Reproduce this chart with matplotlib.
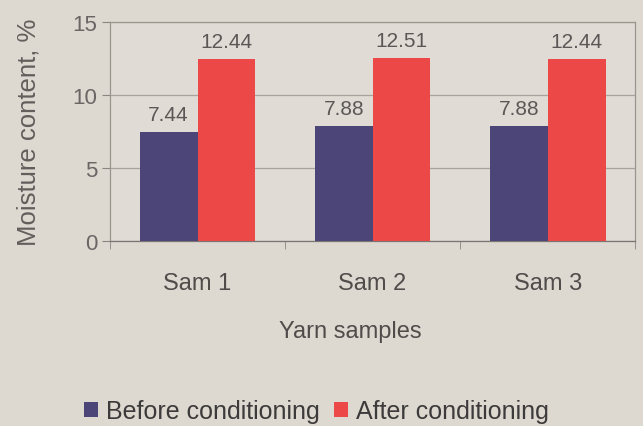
import matplotlib
matplotlib.use("Agg")
import matplotlib.pyplot as plt
import numpy as np

categories = ["Sam 1", "Sam 2", "Sam 3"]
before = [7.44, 7.88, 7.88]
after = [12.44, 12.51, 12.44]
series_names = ["Before conditioning", "After conditioning"]
yticks = [0, 5, 10, 15]

plt.rcParams['font.family'] = ['Liberation Sans', 'DejaVu Sans']

bg = '#ddd8d0'
txt = '#4f4c4a'
c_before = '#4b4677'
c_after = '#ec4848'

fig = plt.figure(figsize=(6.43, 4.27), dpi=100, facecolor=bg)
ax = fig.add_axes([0.171, 0.433, 0.817, 0.513], facecolor='#e0dcd5')

x = np.arange(len(categories))
w = 0.33
b1 = ax.bar(x - w / 2, before, w, color=c_before, label=series_names[0], zorder=3)
b2 = ax.bar(x + w / 2, after, w, color=c_after, label=series_names[1], zorder=3)

for bars, vals in ((b1, before), (b2, after)):
    for r, v in zip(bars, vals):
        ax.annotate(f"{v:.2f}", (r.get_x() + r.get_width() / 2, v),
                    xytext=(0, 6), textcoords='offset points',
                    ha='center', va='bottom', fontsize=15, color='#5a5756')

ax.set_xlim(-0.5, 2.5)
ax.set_ylim(0, 15)
ax.set_yticks(yticks)
ax.set_xticks(x)
ax.set_xticklabels(categories)
ax.set_xticks([-0.5, 0.5, 1.5, 2.5], minor=True)
ax.tick_params(axis='x', which='major', length=0, pad=22, labelsize=17, labelcolor=txt)
ax.tick_params(axis='x', which='minor', length=6, color='#8a8580', direction='out')
ax.tick_params(axis='y', length=6, color='#8a8580', pad=3, labelsize=16, labelcolor='#6a6664')

ax.yaxis.grid(True, color='#a8a39c', linewidth=0.9, zorder=0)
for s in ax.spines.values():
    s.set_color('#9a958f')
    s.set_linewidth(0.9)
ax.spines['bottom'].set_color('#7a7570')

ax.set_xlabel("Yarn samples", fontsize=17, color=txt)
ax.xaxis.set_label_coords(0.457, -0.41)
ax.xaxis.label.set_va('center')
ax.set_ylabel("Moisture content, %", fontsize=18.5, color='#625e5c')
ax.yaxis.set_label_coords(-0.156, 0.50)
ax.yaxis.label.set_va('center')

leg = fig.legend(handles=[b1, b2], labels=series_names, loc='center',
                 bbox_to_anchor=(0.492, 0.035), ncol=2, frameon=False,
                 fontsize=18, handlelength=0.55, handleheight=0.55,
                 handletextpad=0.3, columnspacing=0.6)
for t in leg.get_texts():
    t.set_color('#3c3a3a')

fig.savefig("out.png", dpi=100, facecolor=bg)
